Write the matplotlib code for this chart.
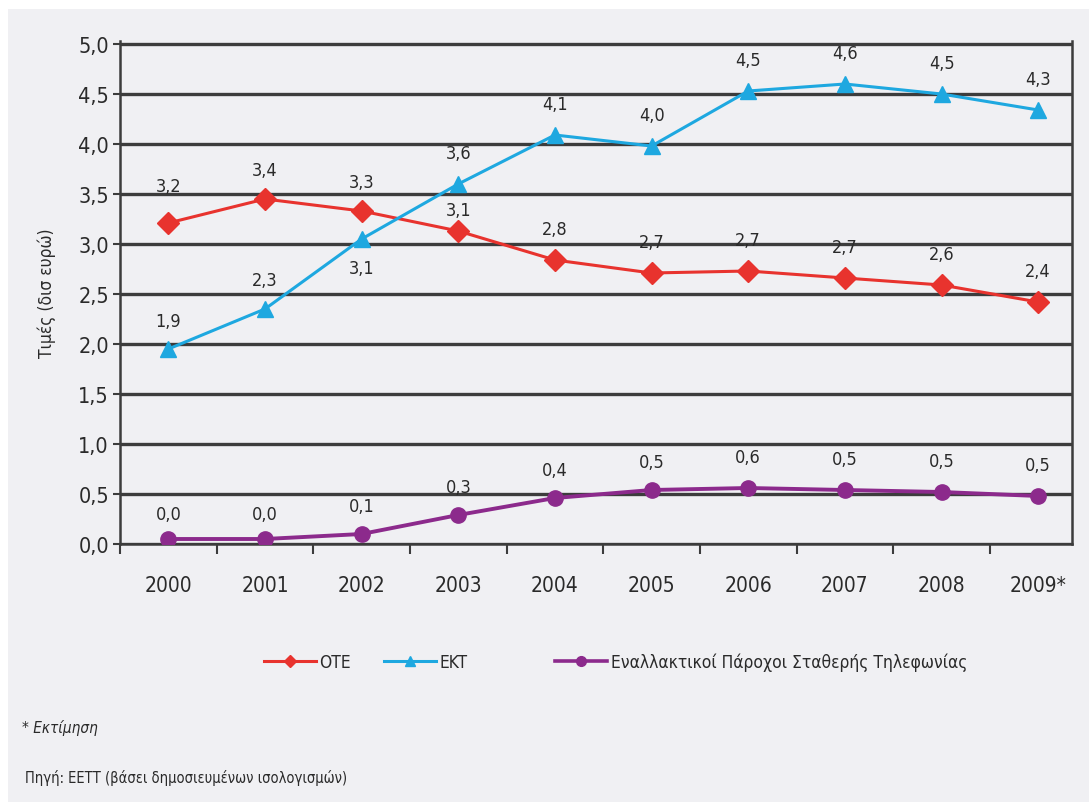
import matplotlib
matplotlib.use("Agg")
import matplotlib.pyplot as plt
from matplotlib.lines import Line2D
from matplotlib.patches import Rectangle
from matplotlib.ticker import FuncFormatter, MultipleLocator, FixedLocator

plt.rcParams['font.family'] = ['DejaVu Sans']
plt.rcParams['font.stretch'] = 'condensed'

years = ['2000', '2001', '2002', '2003', '2004', '2005', '2006', '2007', '2008', '2009*']
ote = [3.21, 3.45, 3.33, 3.13, 2.84, 2.71, 2.73, 2.66, 2.59, 2.42]
ekt = [1.95, 2.35, 3.05, 3.60, 4.09, 3.98, 4.53, 4.60, 4.50, 4.34]
alt = [0.05, 0.05, 0.10, 0.29, 0.46, 0.54, 0.56, 0.54, 0.52, 0.48]
ote_lbl = ['3,2', '3,4', '3,3', '3,1', '2,8', '2,7', '2,7', '2,7', '2,6', '2,4']
ekt_lbl = ['1,9', '2,3', '3,1', '3,6', '4,1', '4,0', '4,5', '4,6', '4,5', '4,3']
alt_lbl = ['0,0', '0,0', '0,1', '0,3', '0,4', '0,5', '0,6', '0,5', '0,5', '0,5']
names = ['OTE', 'EKT', 'Εναλλακτικοί Πάροχοι Σταθερής Τηλεφωνίας']

BG = '#f0f0f3'
RED = '#e8332e'
BLUE = '#1ea8e0'
PURPLE = '#8c2a8c'
TXT = '#2a2a2a'

fig = plt.figure(figsize=(10.89, 8.03), dpi=100, facecolor='white')
fig.patches.append(Rectangle((8/1089, 0), 1 - 8/1089, 1 - 10/803,
                             transform=fig.transFigure, facecolor=BG,
                             edgecolor='none', zorder=-10))

ax = fig.add_axes([120/1089, 258/803, (1072-120)/1089, (761-258)/803])
ax.set_facecolor(BG)

x = list(range(len(years)))
ax.set_xlim(-0.5, 9.35)
ax.set_ylim(0, 5.03)

for v in [i * 0.5 for i in range(11)]:
    ax.axhline(v, color='#3c3c3c', lw=2.4, zorder=1)

ax.plot(x, ote, color=RED, lw=2.2, marker='D', ms=11, zorder=4)
ax.plot(x, ekt, color=BLUE, lw=2.2, marker='^', ms=12, zorder=4)
ax.plot(x, alt, color=PURPLE, lw=2.8, marker='o', ms=11, zorder=4)

def lab(xs, ys, ls, offs):
    for xi, yi, li, o in zip(xs, ys, ls, offs):
        ax.annotate(li, (xi, yi), xytext=(0, o), textcoords='offset points',
                    ha='center', va='center', fontsize=13, color=TXT, zorder=5)

lab(x, ote, ote_lbl, [27, 21, 21, 15, 22, 22, 22, 22, 22, 22])
lab(x, ekt, ekt_lbl, [20, 21, -21, 22, 22, 22, 22, 22, 22, 22])
lab(x, alt, alt_lbl, [18, 18, 20, 20, 20, 20, 22, 22, 22, 22])

ax.spines['top'].set_visible(False)
for s in ['left', 'right', 'bottom']:
    ax.spines[s].set_color('#3c3c3c')
    ax.spines[s].set_linewidth(1.8)

ax.yaxis.set_major_locator(MultipleLocator(0.5))
ax.yaxis.set_major_formatter(FuncFormatter(lambda v, p: f'{v:.1f}'.replace('.', ',')))
ax.tick_params(axis='y', length=5, width=1.5, color='#3c3c3c', labelsize=15.5,
               labelcolor=TXT, pad=3)

ax.set_xticks(x)
ax.set_xticklabels(years)
ax.xaxis.set_minor_locator(FixedLocator([i + 0.5 for i in range(-1, 9)]))
ax.tick_params(axis='x', which='major', length=0, pad=22, labelsize=15, labelcolor=TXT)
ax.tick_params(axis='x', which='minor', length=7, width=1.5, color='#3c3c3c', direction='out')

ax.set_ylabel('Τιμές (δισ ευρώ)', fontsize=12.5, color=TXT, labelpad=16)

# legend
h1 = Line2D([], [], color=RED, lw=2.2, marker='D', ms=6)
h2 = Line2D([], [], color=BLUE, lw=2.2, marker='^', ms=7)
h3 = Line2D([], [], color=PURPLE, lw=2.6, marker='o', ms=7)
for h, n, xa in [(h1, names[0], 264/1089), (h2, names[1], 384/1089), (h3, names[2], 555/1089)]:
    fig.legend(handles=[h], labels=[n], loc='center left', bbox_to_anchor=(xa, 1 - 663/803),
               frameon=False, fontsize=12.5, handlelength=3.0, handletextpad=0.2,
               labelcolor=TXT, borderpad=0, borderaxespad=0)

fig.text(22/1089, 1 - 728/803, '* Εκτίμηση', fontsize=11, style='italic', color=TXT,
         va='center', ha='left')
fig.text(25/1089, 1 - 778/803, 'Πηγή: ΕΕΤΤ (βάσει δημοσιευμένων ισολογισμών)', fontsize=10.5,
         color=TXT, va='center', ha='left')

fig.savefig('out.png', dpi=100, facecolor=fig.get_facecolor())
